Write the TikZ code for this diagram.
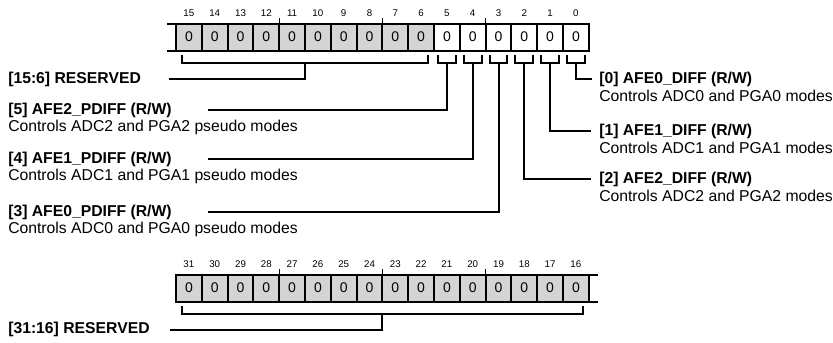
\documentclass[tikz,border=0pt]{standalone}
\usepackage{fontspec}
\setmainfont{Liberation Sans}
\usetikzlibrary{positioning, calc}

\begin{document}
\begin{tikzpicture}[
    x=0.75pt, y=-0.75pt,
    cell/.style={draw, line width=1.5pt, minimum width=19.35pt, minimum height=20.25pt,
        inner sep=0pt, outer sep=0pt, font=\fontsize{10.5}{12}\selectfont},
    rsv/.style={cell, fill=black!17},
    bitnum/.style={font=\fontsize{7.3}{8}\selectfont, inner sep=0pt, anchor=base},
    wire/.style={line width=1.5pt},
    tick/.style={line width=1pt},
    title/.style={font=\fontsize{11.8}{14}\selectfont\bfseries, inner sep=0pt, anchor=west},
    desc/.style={font=\fontsize{11.8}{14}\selectfont, inner sep=0pt, anchor=west}
]
    \useasboundingbox (0,0) rectangle (833,343);
    % low half
    \foreach \n in {6,...,15}
        \node[rsv] (b\n) at ({188.9+(15-\n)*25.8}, 37) {0};
    \foreach \n in {0,...,5}
        \node[cell] (b\n) at ({188.9+(15-\n)*25.8}, 37) {0};
    % high half
    \foreach \n in {16,...,31}
        \node[rsv] (b\n) at ({188.9+(31-\n)*25.8}, 288) {0};
    \foreach \n in {0,...,31}
        \node[bitnum] (n\n) at ($(b\n.north)+(0,-7)$) {\n};
    \foreach \n in {3,7,11,19,23,27}
        \draw[tick] (b\n.north west) -- ++(0,-6);
    \draw[wire] ($(b15.north west)+(-9,0)$) -- (b15.north west);
    \draw[wire] ($(b15.south west)+(-9,0)$) -- (b15.south west);
    \draw[wire] (b16.north east) -- ++(9,0);
    \draw[wire] (b16.south east) -- ++(9,0);
    % brackets
    \draw[wire] ($(b15.south west)+(6,4.5)$) -- ++(0,7.5) -| ($(b6.south east)+(-6,4.5)$);
    \coordinate (k6) at ($(b15.south west)!0.5!(b6.south east)+(0,12)$);
    \draw[wire] ($(b31.south west)+(6,4.5)$) -- ++(0,7.5) -| ($(b16.south east)+(-6,4.5)$);
    \coordinate (k16) at ($(b31.south west)!0.5!(b16.south east)+(0,12)$);
    \foreach \n in {0,...,5} {
        \draw[wire] ($(b\n.south west)+(4,4.5)$) -- ++(0,8) -| ($(b\n.south east)+(-4,4.5)$);
        \coordinate (k\n) at ($(b\n.south)+(0,12.5)$);
    }
    % labels
    \node[title] (t6) at (8,79) {[15:6] RESERVED};
    \node[title] (t5) at (8,110) {[5] AFE2\_PDIFF (R/W)};
    \node[desc] (d5) at (8,127) {Controls ADC2 and PGA2 pseudo modes};
    \node[title] (t4) at (8,159) {[4] AFE1\_PDIFF (R/W)};
    \node[desc] (d4) at (8,176) {Controls ADC1 and PGA1 pseudo modes};
    \node[title] (t3) at (8,212) {[3] AFE0\_PDIFF (R/W)};
    \node[desc] (d3) at (8,229) {Controls ADC0 and PGA0 pseudo modes};
    \node[title] (t16) at (8,329) {[31:16] RESERVED};
    \node[title] (t0) at (599,79) {[0] AFE0\_DIFF (R/W)};
    \node[desc] (d0) at (599,96) {Controls ADC0 and PGA0 modes};
    \node[title] (t1) at (599,131) {[1] AFE1\_DIFF (R/W)};
    \node[desc] (d1) at (599,148) {Controls ADC1 and PGA1 modes};
    \node[title] (t2) at (599,179) {[2] AFE2\_DIFF (R/W)};
    \node[desc] (d2) at (599,196) {Controls ADC2 and PGA2 modes};
    \coordinate (e6) at (169,79);
    \coordinate (e5) at (208,110);
    \coordinate (e4) at (208,159);
    \coordinate (e3) at (208,212);
    \coordinate (e16) at (170,330);
    \coordinate (e0) at (592,79);
    \coordinate (e1) at (591,131);
    \coordinate (e2) at (591,179);
    \foreach \n in {0,...,6,16}
        \draw[wire] (k\n) |- (e\n);
\end{tikzpicture}
\end{document}
